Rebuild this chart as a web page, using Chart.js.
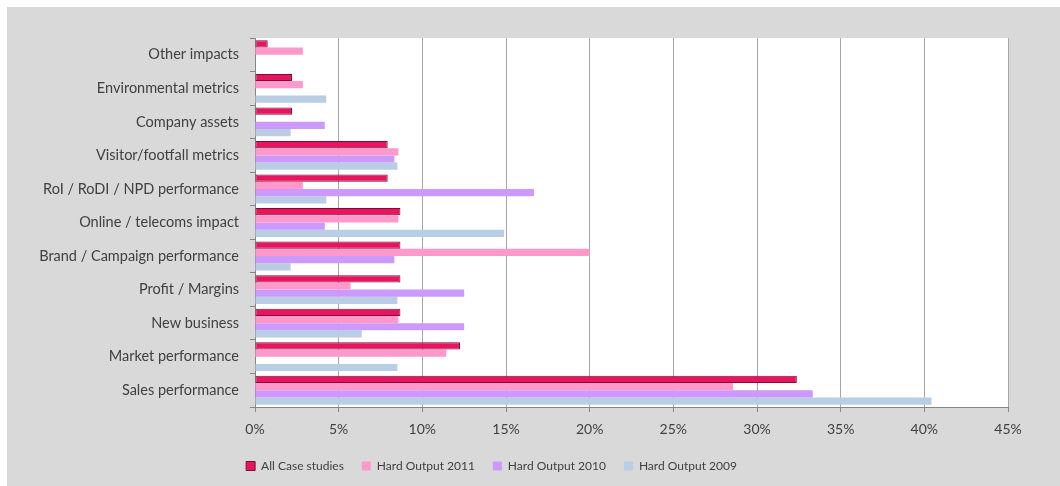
<!DOCTYPE html>
<html>
<head>
<meta charset="utf-8">
<script src="https://cdn.jsdelivr.net/npm/chart.js@4.4.1/dist/chart.umd.min.js"></script>
<style>
    body { margin: 0; background: #ffffff; }
    #frame { position: absolute; left: 7px; top: 7px; width: 1053px; height: 479px; background: #d9d9d9; }
    canvas { display: block; }
</style>
</head>
<body>
<div id="frame"><canvas id="impact-chart" width="1053" height="479"></canvas></div>
<script>
const categories = [
    'Other impacts',
    'Environmental metrics',
    'Company assets',
    'Visitor/footfall metrics',
    'RoI / RoDI / NPD performance',
    'Online / telecoms impact',
    'Brand / Campaign performance',
    'Profit / Margins',
    'New business',
    'Market performance',
    'Sales performance'
];

// percentages, same order as categories (top to bottom)
const allCaseStudies = [0.76, 2.21, 2.21, 7.93, 7.93, 8.69, 8.69, 8.69, 8.69, 12.25, 32.38];
const hardOutput2011 = [2.86, 2.86, 0, 8.57, 2.86, 8.57, 20.0, 5.71, 8.57, 11.43, 28.57];
const hardOutput2010 = [0, 0, 4.17, 8.33, 16.67, 4.17, 8.33, 12.5, 12.5, 0, 33.33];
const hardOutput2009 = [0, 4.26, 2.13, 8.51, 4.26, 14.89, 2.13, 8.51, 6.38, 8.51, 40.43];

const xMax = 45;
const xStep = 5;

const textColor = '#404040';
const fontFamily = 'Lato, "Open Sans", sans-serif';

const plotBackground = {
    id: 'plotBackground',
    beforeDraw(chart) {
        const { ctx, chartArea } = chart;
        ctx.save();
        ctx.fillStyle = '#ffffff';
        ctx.fillRect(chartArea.left, chartArea.top, chartArea.right - chartArea.left, chartArea.bottom - chartArea.top);
        ctx.restore();
    }
};

// legend takes no room in the layout, it is put under the axis by hand
const legendPlacement = {
    id: 'legendPlacement',
    afterLayout(chart) {
        const legend = chart.legend;
        legend.left = -16;
        legend.right = 985;
        legend.top = 435;
        legend.bottom = 479;
    }
};

new Chart(document.getElementById('impact-chart'), {
    type: 'bar',
    data: {
        labels: categories,
        datasets: [
            {
                label: 'All Case studies',
                data: allCaseStudies,
                backgroundColor: '#e8155e',
                borderColor: '#7a1038',
                borderWidth: 1,
                borderSkipped: false
            },
            {
                label: 'Hard Output 2011',
                data: hardOutput2011,
                backgroundColor: '#ff99cc',
                borderWidth: 0
            },
            {
                label: 'Hard Output 2010',
                data: hardOutput2010,
                backgroundColor: '#cc99ff',
                borderWidth: 0
            },
            {
                label: 'Hard Output 2009',
                data: hardOutput2009,
                backgroundColor: '#b9cde5',
                borderWidth: 0
            }
        ]
    },
    options: {
        indexAxis: 'y',
        responsive: false,
        animation: false,
        categoryPercentage: 0.86,
        barPercentage: 1,
        layout: {
            padding: { top: 31, right: 52, bottom: 0, left: 0 }
        },
        scales: {
            x: {
                min: 0,
                max: xMax,
                afterFit(scale) { scale.height = 78; },
                ticks: {
                    stepSize: xStep,
                    padding: 9,
                    color: textColor,
                    font: { family: fontFamily, size: 14 },
                    callback: value => value + '%'
                },
                grid: { color: '#a6a6a6', tickLength: 5, tickColor: '#868686' },
                border: { color: '#868686' }
            },
            y: {
                afterFit(scale) { scale.width = 248; },
                ticks: {
                    padding: 11,
                    color: textColor,
                    font: { family: fontFamily, size: 14.5 }
                },
                grid: { offset: true, drawOnChartArea: false, tickLength: 5, color: '#868686' },
                border: { color: '#868686' }
            }
        },
        plugins: {
            legend: {
                position: 'bottom',
                maxHeight: 1,
                labels: {
                    boxWidth: 9,
                    boxHeight: 9,
                    padding: 18,
                    color: textColor,
                    font: { family: fontFamily, size: 12 }
                }
            },
            tooltip: { enabled: false }
        }
    },
    plugins: [plotBackground, legendPlacement]
});
</script>
</body>
</html>
